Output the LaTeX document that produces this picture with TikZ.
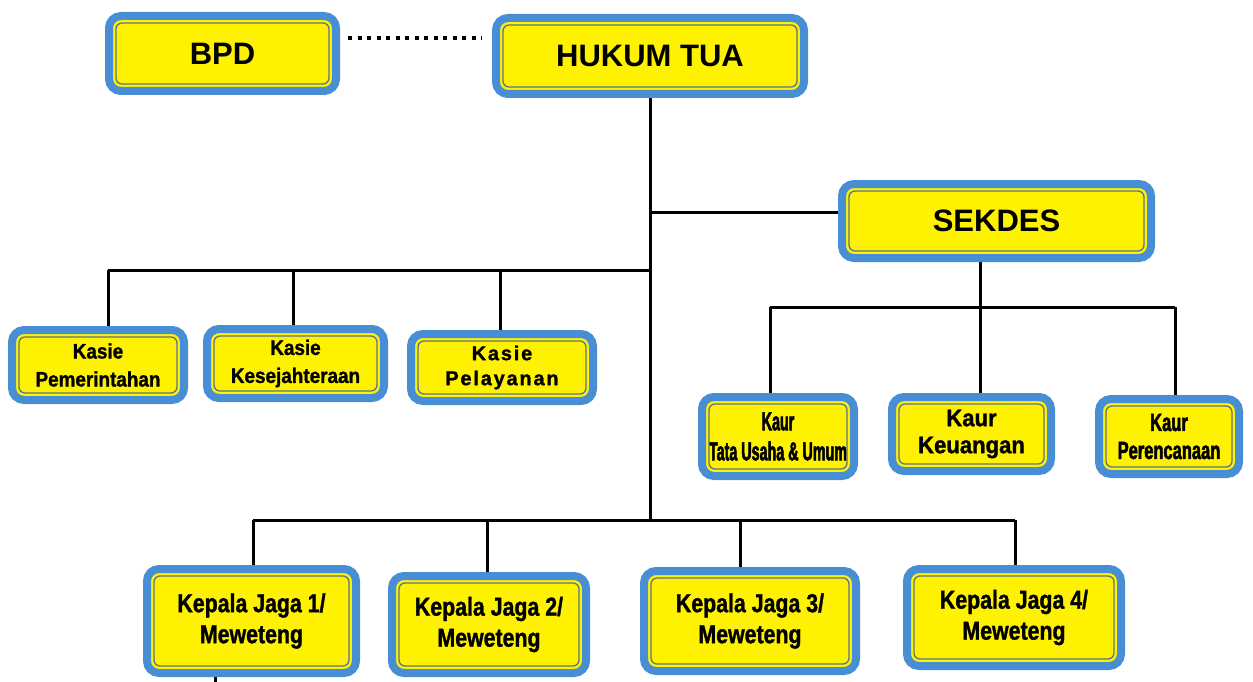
\documentclass[tikz,border=0pt]{standalone}
\usepackage{fontspec}
\setmainfont{Liberation Sans}
\newfontfamily\famKasie[FakeStretch=0.9,BoldFeatures={FakeBold=1.2}]{Liberation Sans}
\newfontfamily\famPel[LetterSpace=9,BoldFeatures={FakeBold=1.2}]{Liberation Sans}
\newfontfamily\famTU[FakeStretch=0.55,BoldFeatures={FakeBold=2}]{Liberation Sans}
\newfontfamily\famPer[FakeStretch=0.66,BoldFeatures={FakeBold=2}]{Liberation Sans}
\newfontfamily\famKeu[FakeStretch=0.92,BoldFeatures={FakeBold=1.2}]{Liberation Sans}
\newfontfamily\famKJ[FakeStretch=0.82,BoldFeatures={FakeBold=1.2}]{Liberation Sans}
\usetikzlibrary{calc}
\definecolor{boxblue}{RGB}{72,142,212}
\definecolor{boxyellow}{RGB}{255,242,0}
\definecolor{innerline}{RGB}{95,115,135}
\tikzset{
  obox/.style={draw=boxblue, line width=8pt, fill=boxyellow, rounded corners=12pt,
    inner sep=0pt, align=center},
  oinner/.style={draw=innerline, line width=1.3pt, rounded corners=6pt, inner sep=0pt},
  conn/.style={draw=black, line width=3pt},
  dotconn/.style={draw=black, line width=4pt, dash pattern=on 4pt off 5.5pt}
}
% name, x, y, w, h, font, text
\newcommand\orgbox[7]{%
  \node[obox, minimum width=#4pt, minimum height=#5pt, font=#6\bfseries] (#1) at (#2,#3) {#7};
  \node[oinner, minimum width=#4pt-14pt, minimum height=#5pt-14pt] (#1in) at (#2,#3) {};
}
\begin{document}
\begin{tikzpicture}[x=1pt,y=-1pt]
\useasboundingbox (0,0) rectangle (1253,682);
% junction coordinates
\coordinate (jsek) at (650,212);
\coordinate (jkasie) at (650,270);
\coordinate (jbot) at (650,520);
\coordinate (k1) at (108,270);
\coordinate (k2) at (293,270);
\coordinate (k3) at (500,270);
\coordinate (sdrop) at (980,262);
\coordinate (r1) at (770,307);
\coordinate (r2) at (980,307);
\coordinate (r3) at (1175,307);
\coordinate (b1) at (253,520);
\coordinate (b2) at (487,520);
\coordinate (b3) at (740,520);
\coordinate (b4) at (1015,520);
\coordinate (stub) at (215,682);

% connectors
\draw[conn] (650,98) -- (jbot);
\draw[conn] (jsek) -- (840,212);
\draw[conn] (k1) -- (jkasie);
\draw[conn] (k1) -- (108,330);
\draw[conn] (k2) -- (293,330);
\draw[conn] (k3) -- (500,332);
\draw[conn] (sdrop) -- (r2);
\draw[conn] (r1) -- (r3);
\draw[conn] (r1) -- (770,396);
\draw[conn] (r2) -- (980,396);
\draw[conn] (r3) -- (1175,398);
\draw[conn] (b1) -- (b4);
\draw[conn] (b1) -- (253,568);
\draw[conn] (b2) -- (487,575);
\draw[conn] (b3) -- (740,570);
\draw[conn] (b4) -- (1015,568);
\draw[conn] (215,672) -- (stub);

% boxes
\orgbox{bpd}{222.5}{53.5}{227}{75}{\fontsize{31}{34}\selectfont}{BPD}
\orgbox{hukum}{650}{56}{308}{76}{\fontsize{31}{34}\selectfont}{HUKUM TUA}
\orgbox{sekdes}{996.5}{221}{309}{74}{\fontsize{31}{34}\selectfont}{SEKDES}
\orgbox{kpem}{98}{365}{172}{70}{\famKasie\fontsize{21}{28}\selectfont}{Kasie\\Pemerintahan}
\orgbox{kkes}{295.5}{363.5}{177}{69}{\famKasie\fontsize{21}{28}\selectfont}{Kasie\\Kesejahteraan}
\orgbox{kpel}{502}{367.5}{182}{67}{\famPel\fontsize{20}{25}\selectfont}{Kasie\\Pelayanan}
\orgbox{ktu}{778}{436.5}{152}{79}{\famTU\fontsize{26}{30}\selectfont}{Kaur\\Tata Usaha \& Umum}
\orgbox{kkeu}{971.5}{434}{159}{74}{\famKeu\fontsize{24}{27}\selectfont}{Kaur\\Keuangan}
\orgbox{kper}{1169}{436.5}{140}{75}{\famPer\fontsize{25}{28}\selectfont}{Kaur\\Perencanaan}
\orgbox{kj1}{251.5}{621}{209}{104}{\famKJ\fontsize{26}{31}\selectfont}{Kepala Jaga 1/\\Meweteng}
\orgbox{kj2}{489}{624.5}{194}{97}{\famKJ\fontsize{26}{31}\selectfont}{Kepala Jaga 2/\\Meweteng}
\orgbox{kj3}{750}{621}{212}{100}{\famKJ\fontsize{26}{31}\selectfont}{Kepala Jaga 3/\\Meweteng}
\orgbox{kj4}{1014}{617.5}{214}{97}{\famKJ\fontsize{26}{31}\selectfont}{Kepala Jaga 4/\\Meweteng}

% dotted link
\draw[dotconn] ($(bpd.east)+(8pt,15pt)$) -- ($(bpd.east -| hukum.west)+(-10pt,15pt)$);
\end{tikzpicture}
\end{document}
